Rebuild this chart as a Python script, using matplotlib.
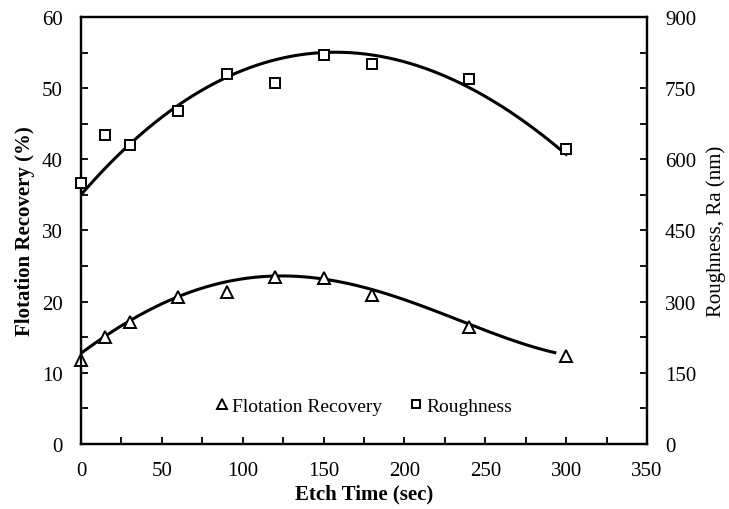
import numpy as np
import matplotlib.pyplot as plt
from matplotlib.ticker import MultipleLocator

plt.rcParams['font.family'] = ['Liberation Serif', 'DejaVu Serif']

# 数据：刻蚀时间 (sec)
etch_time = [0, 15, 30, 60, 90, 120, 150, 180, 240, 300]
# 浮选回收率 (%)
recovery = [11.8, 15.1, 17.2, 20.7, 21.4, 23.4, 23.3, 20.9, 16.4, 12.3]
# 粗糙度 Ra (nm)
roughness = [550, 651, 630, 701, 780, 761, 820, 800, 770, 621]

# 趋势线（从原图读取的曲线上的点）
recovery_trend_t = [0, 15, 30, 60, 90, 120, 150, 180, 240, 293]
recovery_trend_v = [12.8, 15.2, 17.1, 20.7, 22.9, 23.65, 23.3, 21.4, 17.0, 12.8]
roughness_trend_t = [0, 30, 60, 90, 150, 180, 210, 240, 300]
roughness_trend_v = [527, 632, 705, 778, 830, 820, 790, 752, 611]


def trend(x, y, deg):
    """多项式趋势线"""
    c = np.polyfit(x, y, deg)
    xs = np.linspace(min(x), max(x), 200)
    return xs, np.polyval(c, xs)


fig = plt.figure(figsize=(7.29, 5.10), dpi=100)
ax = fig.add_axes([0.1111, 0.1275, 0.7764, 0.8372])
ax2 = ax.twinx()

xs, ys = trend(recovery_trend_t, recovery_trend_v, 4)
ax.plot(xs, ys, color='black', lw=2.2)
ax.plot(etch_time, recovery, linestyle='none', marker='^', ms=9,
        mfc='white', mec='black', mew=1.4, label='Flotation Recovery',
        clip_on=False, zorder=5)

xs, ys = trend(roughness_trend_t, roughness_trend_v, 3)
ax2.plot(xs, ys, color='black', lw=2.2)
ax2.plot(etch_time, roughness, linestyle='none', marker='s', ms=7.5,
         mfc='white', mec='black', mew=1.4, label='Roughness',
         clip_on=False, zorder=5)

ax.set_xlim(0, 350)
ax.set_ylim(0, 60)
ax2.set_ylim(0, 900)
ax.xaxis.set_major_locator(MultipleLocator(50))
ax.xaxis.set_minor_locator(MultipleLocator(25))
ax.yaxis.set_major_locator(MultipleLocator(10))
ax.yaxis.set_minor_locator(MultipleLocator(5))
ax2.yaxis.set_major_locator(MultipleLocator(150))
ax2.yaxis.set_minor_locator(MultipleLocator(75))

for a in (ax, ax2):
    a.tick_params(which='both', direction='in', labelsize=15, width=1.3, length=5)
    for s in a.spines.values():
        s.set_linewidth(1.6)
ax.tick_params(axis='y', right=False, pad=13)
ax.tick_params(axis='x', pad=12)
ax2.tick_params(axis='y', pad=13)

ax.set_xlabel('Etch Time (sec)', fontsize=15, fontweight='bold', labelpad=3)
ax.set_ylabel('Flotation Recovery (%)', fontsize=15, fontweight='bold', labelpad=5)
ax2.set_ylabel('Roughness, Ra (nm)', fontsize=15, labelpad=7)

h1, l1 = ax.get_legend_handles_labels()
h2, l2 = ax2.get_legend_handles_labels()
ax.legend(h1 + h2, l1 + l2, loc='center', bbox_to_anchor=(0.5, 0.088),
          ncol=2, frameon=False, fontsize=14, handlelength=0.6,
          handletextpad=0.25, columnspacing=1.4, markerscale=0.85)

fig.savefig('out.png', dpi=100)
